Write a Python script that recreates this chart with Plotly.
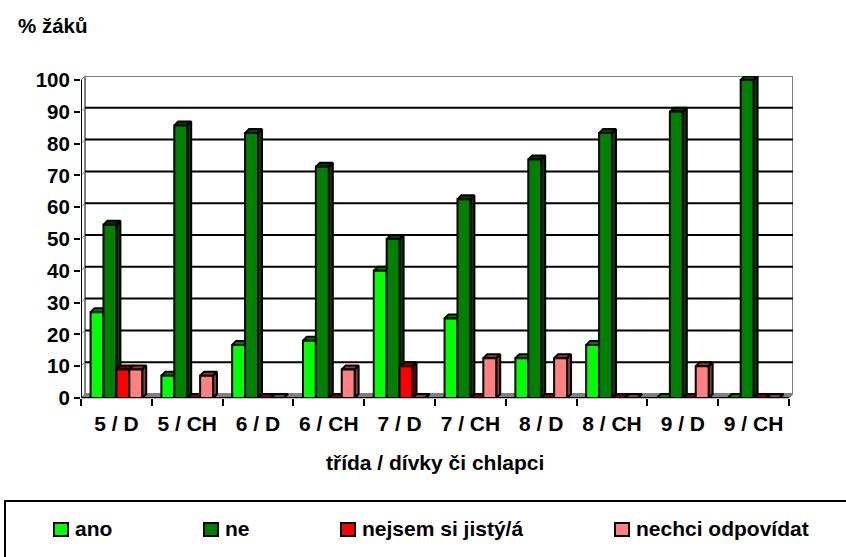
import plotly.graph_objects as go

categories = ["5 / D", "5 / CH", "6 / D", "6 / CH", "7 / D", "7 / CH", "8 / D", "8 / CH", "9 / D", "9 / CH"]
ano = [27, 7, 16.7, 18, 40, 25, 12.5, 16.7, 0, 0]
ne = [54.5, 85.7, 83.3, 72.7, 50, 62.5, 75, 83.3, 90, 100]
nejsem = [9, 0, 0, 0, 10, 0, 0, 0, 0, 0]
nechci = [9, 7, 0, 9, 0, 12.5, 12.5, 0, 10, 0]
series_names = ["ano", "ne", "nejsem si jistý/á", "nechci odpovídat"]
series_values = [ano, ne, nejsem, nechci]
front_colors = ["#00FF00", "#008000", "#FF0000", "#FF8080"]
dark_colors = ["#008000", "#004000", "#800000", "#804040"]
y_ticks = list(range(0, 101, 10))

FONT = "Liberation Sans"
L, R, T, B = 81, 53, 76, 159
PX_X = 70.8
PX_Y = 3.18
DEPTH = 4
dx = DEPTH / PX_X
dy = DEPTH / PX_Y
bargap = 0.27
bar_w = (1 - bargap) / 4
xmax = 9.5 + dx
ymax = 100 + dy
positions = list(range(len(categories)))

fig = go.Figure()
for k, (name, vals) in enumerate(zip(series_names, series_values)):
    xs, ys = [], []
    for i, v in enumerate(vals):
        left = i - 0.5 + bargap / 2 + k * bar_w
        right = left + bar_w
        xs += [left, left + dx, right + dx, right, left, None]
        ys += [v, v + dy, v + dy, v, v, None]
        xs += [right, right + dx, right + dx, right, right, None]
        ys += [v, v + dy, dy, 0, v, None]
    fig.add_trace(go.Scatter(x=xs, y=ys, mode="lines", fill="toself", fillcolor=dark_colors[k],
                             line=dict(color="black", width=2), hoverinfo="skip",
                             showlegend=False, zorder=2 * k, cliponaxis=False))
    fig.add_trace(go.Bar(x=positions, y=vals, name=name, marker=dict(color=front_colors[k],
                         line=dict(color="black", width=2)), zorder=2 * k + 1, cliponaxis=False))

shapes = []
# back wall, floor and grid
shapes.append(dict(type="rect", xref="x", yref="y", x0=-0.5 + dx, x1=xmax, y0=dy, y1=ymax,
                   line=dict(color="#808080", width=2), fillcolor="white", layer="below"))
shapes.append(dict(type="path", xref="paper", yref="paper",
                   path=f"M 0 0 L {DEPTH/712} {DEPTH/322} L 1 {DEPTH/322} L {1-DEPTH/712} 0 Z",
                   line=dict(color="#808080", width=1), fillcolor="#808080", layer="below"))
for t in y_ticks[1:]:
    if t < 100:
        shapes.append(dict(type="line", xref="x", yref="y", x0=-0.5 + dx, x1=xmax, y0=t + dy, y1=t + dy,
                           line=dict(color="black", width=2), layer="below"))
    shapes.append(dict(type="line", xref="x", yref="y", x0=-0.5, x1=-0.5 + dx, y0=t, y1=t + dy,
                       line=dict(color="#808080", width=1), layer="below"))
# front axes
shapes.append(dict(type="line", xref="x", yref="y", x0=-0.5, x1=-0.5, y0=0, y1=100,
                   line=dict(color="black", width=2)))
shapes.append(dict(type="line", xref="x", yref="y", x0=-0.5, x1=9.5, y0=0, y1=0,
                   line=dict(color="black", width=2)))
# legend box
shapes.append(dict(type="rect", xref="paper", yref="paper",
                   x0=(5 - L) / 712, x1=(852 - L) / 712,
                   y0=-(562 - 398) / 322, y1=-(501 - 398) / 322, line=dict(color="black", width=2),
                   fillcolor="white"))

annotations = [
    dict(text="<b>% žáků</b>", x=(16 - L) / 712, y=(398 - 25) / 322, xref="paper", yref="paper",
         xanchor="left", yanchor="middle", showarrow=False, font=dict(family=FONT, size=20.5, color="black")),
    dict(text="<b>třída / dívky či chlapci</b>", x=(435 - L) / 712, y=(398 - 463) / 322, xref="paper", yref="paper",
         xanchor="center", yanchor="middle", showarrow=False, font=dict(family=FONT, size=21, color="black")),
]
legend_x = [54, 204, 341, 615]
for name, color, lx in zip(series_names, front_colors, legend_x):
    shapes.append(dict(type="rect", xref="paper", yref="paper",
                       x0=(lx - L) / 712, x1=(lx + 14 - L) / 712,
                       y0=(398 - 536) / 322, y1=(398 - 523) / 322,
                       line=dict(color="black", width=2), fillcolor=color))
    annotations.append(dict(text=f"<b>{name}</b>", x=(lx + 19 - L) / 712, y=(398 - 528.5) / 322,
                            xref="paper", yref="paper", xanchor="left", yanchor="middle", showarrow=False,
                            font=dict(family=FONT, size=21, color="black")))

fig.update_layout(
    width=846, height=557, autosize=False,
    margin=dict(l=L, r=R, t=T, b=B),
    paper_bgcolor="white", plot_bgcolor="white",
    barmode="group", bargap=bargap, bargroupgap=0,
    showlegend=False, shapes=shapes, annotations=annotations,
    font=dict(family=FONT, color="black"),
    xaxis=dict(range=[-0.5, xmax], tickmode="array", tickvals=positions, ticktext=categories,
               ticks="", showgrid=False, zeroline=False, ticklabelstandoff=11,
               minor=dict(tickmode="array", tickvals=[p - 0.5 for p in positions] + [9.5], ticks="outside",
                          ticklen=7, tickwidth=2, tickcolor="black", showgrid=False),
               tickfont=dict(family=FONT, size=21, weight="bold"), tickangle=0),
    yaxis=dict(range=[0, ymax], tickvals=y_ticks, ticks="outside", ticklen=6, tickwidth=2, tickcolor="black",
               showgrid=False, zeroline=False, tickfont=dict(family=FONT, size=20.5, weight="bold")),
)
fig.write_html("out.html", config=dict(displayModeBar=False),
               post_script="document.body.style.margin='0';document.documentElement.style.overflow='hidden';")
